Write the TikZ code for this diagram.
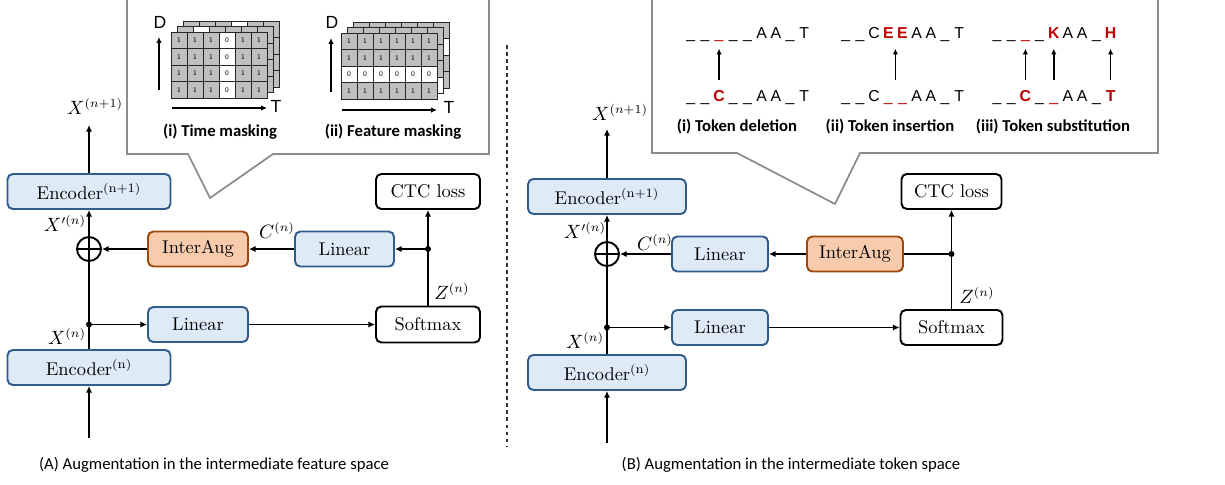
\documentclass[tikz,border=0pt]{standalone}
\usepackage{fontspec}
\usepackage{amsmath}
\usetikzlibrary{arrows.meta,calc,positioning}
\newfontfamily\capfont{Carlito}
\newfontfamily\tokfont{Liberation Sans}

\definecolor{boxblue}{HTML}{2F5C8A}
\definecolor{boxfill}{HTML}{DEEBF7}
\definecolor{augline}{HTML}{9E480E}
\definecolor{augfill}{HTML}{F8CBAD}
\definecolor{tokred}{HTML}{C00000}
\definecolor{calloutgray}{HTML}{8C8C8C}
\definecolor{cellgray}{HTML}{BFBFBF}

\newcommand{\rc}[1]{\textcolor{tokred}{\bfseries #1}}
\newcommand{\ru}{\textcolor{tokred}{\_}}

% one row of tokens: prefix, first x, baseline y, list
\newcommand{\tokrow}[4]{%
  \foreach \t [count=\i] in {#4}{\node[tok] (#1\i) at ({#2+(\i-1)*14.2},#3) {\t};}}

% one layer of the mask grid: prefix, left x, top y, mode (0 time / 1 feature), masked index
\newcommand{\masklayer}[5]{%
  \foreach \c in {0,...,5}{%
    \foreach \r in {0,...,3}{%
      \ifnum#4=0 \ifnum\c=#5 \def\m{1}\else\def\m{0}\fi
      \else \ifnum\r=#5 \def\m{1}\else\def\m{0}\fi\fi
      \ifnum\m=1
        \node[cell,fill=white] (#1-\c-\r) at ({#2+\c*16+8},{#3+\r*16.5+8.25}) {0};
      \else
        \node[cell,fill=cellgray] (#1-\c-\r) at ({#2+\c*16+8},{#3+\r*16.5+8.25}) {1};
      \fi
    }}}

\tikzset{
  blk/.style={rounded corners=3pt, line width=1.1pt, minimum height=0.7cm, inner sep=0pt,
    font=\fontsize{10.5}{12}\selectfont},
  bluebox/.style={blk, draw=boxblue, fill=boxfill},
  augbox/.style={blk, draw=augline, fill=augfill},
  plainbox/.style={blk, draw=black, fill=white},
  wire/.style={line width=1.1pt},
  conn/.style={wire, -{Latex[length=3.8pt,width=3.6pt]}},
  lbl/.style={font=\fontsize{10.5}{12}\selectfont, inner sep=0pt},
  oplus/.style={circle, draw, line width=1.1pt, minimum size=0.48cm, inner sep=0pt,
    path picture={\draw[line width=1.1pt]
      (path picture bounding box.north) -- (path picture bounding box.south)
      (path picture bounding box.west) -- (path picture bounding box.east);}},
  callout/.style={draw=calloutgray, line width=1pt, fill=white},
  cell/.style={draw=black!85, line width=0.4pt, minimum width=0.32cm, minimum height=0.33cm,
    inner sep=0pt, font=\sffamily\fontsize{4}{4}\selectfont},
  axl/.style={font=\tokfont\fontsize{10}{11}\selectfont, inner sep=0pt},
  axarr/.style={line width=0.9pt, -{Latex[length=3.4pt,width=3.2pt]}},
  tok/.style={font=\tokfont\fontsize{9}{10}\selectfont, inner sep=0pt, anchor=base,
    text height=6.5pt, text depth=1pt},
  tokarr/.style={line width=0.8pt, -{Latex[length=3.2pt,width=3pt]}, shorten <=5.7pt, shorten >=4.7pt},
  capt/.style={font=\capfont\bfseries\fontsize{9.5}{11}\selectfont, inner sep=0pt},
  subcapt/.style={font=\capfont\fontsize{9.5}{11}\selectfont, inner sep=0pt},
}

\begin{document}
\begin{tikzpicture}[x=0.02cm, y=-0.02cm]
\useasboundingbox (0,0) rectangle (1225,484);

% callouts
\draw[callout] (127,-3) -- (127,154) -- (188,154) -- (210,198) -- (273,154) -- (489,154) -- (489,-3);
\draw[callout] (652,-3) -- (652,153) -- (737,153) -- (835,204) -- (860,153) -- (1158,153) -- (1158,-3);

% separator
\draw[dashed, dash pattern=on 2.2pt off 1.8pt, line width=0.6pt, black!80] (507,45) -- (507,447);

% (A) feature space
\node[bluebox, minimum width=3.26cm] (encA) at (89,367.5) {Encoder$^{(\mathrm{n})}$};
\node[bluebox, minimum width=3.26cm] (encA1) at (89,191.5) {Encoder$^{(\mathrm{n+1})}$};
\node[oplus] (addA) at (89,249) {};
\node[augbox, minimum width=2cm] (augA) at (198,249) {InterAug};
\node[bluebox, minimum width=1.98cm] (linA1) at (344.5,249) {Linear};
\node[bluebox, minimum width=2cm] (linA2) at (198,324.5) {Linear};
\node[plainbox, minimum width=2.08cm] (ctcA) at (428,191.5) {CTC loss};
\node[plainbox, minimum width=2.08cm, minimum height=0.72cm] (smA) at (428,324.5) {Softmax};
\coordinate (inA) at (89,438);
\coordinate (outA) at (89,125);
\coordinate (spA1) at (89,324.5);
\coordinate (spA2) at (428,249);

\draw[conn] (inA) -- (encA);
\draw[wire] (encA) -- (addA);
\draw[conn] (addA) -- (encA1);
\draw[conn] (encA1) -- (outA);
\draw[conn] (spA1) -- (linA2);
\draw[conn] (linA2) -- (smA);
\draw[conn] (smA) -- (ctcA);
\draw[conn] (spA2) -- (linA1);
\draw[conn] (linA1) -- (augA);
\draw[conn] (augA) -- (addA);
\fill (spA1) circle (1.7pt);
\fill (spA2) circle (1.7pt);

\node[lbl] (xA1) at (95,106) {$X^{(n+1)}$};
\node[lbl] (xpA) at (65,223) {$X'^{(n)}$};
\node[lbl] (xA) at (67,336) {$X^{(n)}$};
\node[lbl] (cA) at (277,230) {$C^{(n)}$};
\node[lbl] (zA) at (452,291) {$Z^{(n)}$};

% masking grids
\masklayer{tm2}{183}{21}{0}{3}
\masklayer{tm1}{177}{26.5}{0}{1}
\masklayer{tm0}{171}{32}{0}{3}
\masklayer{fm2}{353}{22}{1}{1}
\masklayer{fm1}{347}{27.5}{1}{3}
\masklayer{fm0}{341}{33}{1}{2}

\coordinate (tmD0) at (159,90);
\coordinate (tmD1) at (159,37);
\coordinate (tmT0) at (172,108);
\coordinate (tmT1) at (267,108);
\draw[axarr] (tmD0) -- (tmD1);
\draw[axarr] (tmT0) -- (tmT1);
\node[axl] (tmD) at (160,22) {D};
\node[axl] (tmT) at (276,106) {T};
\coordinate (fmD0) at (331,92);
\coordinate (fmD1) at (331,38);
\coordinate (fmT0) at (342,110);
\coordinate (fmT1) at (437,110);
\draw[axarr] (fmD0) -- (fmD1);
\draw[axarr] (fmT0) -- (fmT1);
\node[axl] (fmD) at (332,22) {D};
\node[axl] (fmT) at (449,107) {T};

\node[capt] (tmcap) at (220,132) {(i) Time masking};
\node[capt] (fmcap) at (393,132) {(ii) Feature masking};

% (B) token space
\node[bluebox, minimum width=3.16cm] (encB) at (607,372.5) {Encoder$^{(\mathrm{n})}$};
\node[bluebox, minimum width=3.16cm] (encB1) at (607,196.5) {Encoder$^{(\mathrm{n+1})}$};
\node[oplus] (addB) at (607,254) {};
\node[bluebox, minimum width=1.92cm] (linB1) at (720,254) {Linear};
\node[augbox, minimum width=1.92cm] (augB) at (855,254) {InterAug};
\node[bluebox, minimum width=1.92cm] (linB2) at (720,327.5) {Linear};
\node[plainbox, minimum width=2.0cm] (ctcB) at (951.5,191.5) {CTC loss};
\node[plainbox, minimum width=2.04cm] (smB) at (951.5,327.5) {Softmax};
\coordinate (inB) at (607,443);
\coordinate (outB) at (607,129);
\coordinate (spB1) at (607,327.5);
\coordinate (spB2) at (951.5,254);

\draw[conn] (inB) -- (encB);
\draw[wire] (encB) -- (addB);
\draw[conn] (addB) -- (encB1);
\draw[conn] (encB1) -- (outB);
\draw[conn] (spB1) -- (linB2);
\draw[conn] (linB2) -- (smB);
\draw[conn] (smB) -- (ctcB);
\draw[wire] (augB) -- (spB2);
\draw[conn] (augB) -- (linB1);
\draw[conn] (linB1) -- (addB);
\fill (spB1) circle (1.7pt);
\fill (spB2) circle (1.7pt);

\node[lbl] (xB1) at (620,112) {$X^{(n+1)}$};
\node[lbl] (xpB) at (585,230) {$X'^{(n)}$};
\node[lbl] (xB) at (585,340) {$X^{(n)}$};
\node[lbl] (cB) at (655,242) {$C^{(n)}$};
\node[lbl] (zB) at (977,295) {$Z^{(n)}$};

% token rows
\tokrow{da}{690.7}{38.3}{\_,\_,\ru,\_,\_,A,A,\_,T}
\tokrow{db}{690.7}{101.7}{\_,\_,\rc{C},\_,\_,A,A,\_,T}
\tokrow{na}{845.7}{38.3}{\_,\_,C,\rc{E},\rc{E},A,A,\_,T}
\tokrow{nb}{845.7}{101.7}{\_,\_,C,\ru,\ru,A,A,\_,T}
\tokrow{sa}{997}{38.3}{\_,\_,\ru,\_,\rc{K},A,A,\_,\rc{H}}
\tokrow{sb}{997}{101.7}{\_,\_,\rc{C},\_,\ru,A,A,\_,\rc{T}}

\draw[tokarr] (db3.north) -- (da3.south);
\draw[tokarr] ($(nb4.north)!.5!(nb5.north)$) -- ($(na4.south)!.5!(na5.south)$);
\draw[tokarr] (sb3.north) -- (sa3.south);
\draw[tokarr] (sb5.north) -- (sa5.south);
\draw[tokarr] (sb9.north) -- (sa9.south);

\node[capt] (dcap) at (737,127) {(i) Token deletion};
\node[capt] (ncap) at (890,127) {(ii) Token insertion};
\node[capt] (scap) at (1053,127) {(iii) Token substitution};

% captions
\node[subcapt] (capA) at (214,465) {(A) Augmentation in the intermediate feature space};
\node[subcapt] (capB) at (791,465) {(B) Augmentation in the intermediate token space};
\end{tikzpicture}
\end{document}
